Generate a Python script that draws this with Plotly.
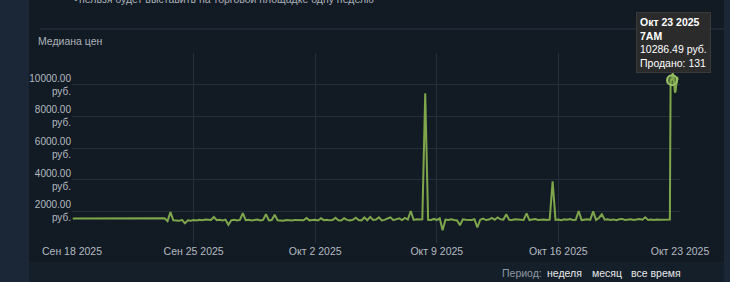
import plotly.graph_objects as go
import pandas as pd

# ---------------- data ----------------
daily_dates = ["2025-09-18 01:00", "2025-09-19 01:00", "2025-09-20 01:00", "2025-09-21 01:00",
               "2025-09-22 01:00", "2025-09-23 01:00", "2025-09-23 08:00"]
daily_values = [1550, 1550, 1545, 1555, 1560, 1560, 1560]

# Sep 23 12:00 .. 20:00 (4-hourly)
sep23_values = [1380, 1950, 1430]

# 4-hourly values, one row per day (00,04,08,12,16,20), Sep 24 .. Oct 21
four_hourly_rows = [
    [1420, 1400, 1460, 1240, 1430, 1410],  # Sep 24
    [1450, 1420, 1470, 1440, 1480, 1460],  # Sep 25
    [1450, 1640, 1440, 1470, 1430, 1480],  # Sep 26
    [1150, 1430, 1460, 1420, 1460, 1880],  # Sep 27
    [1440, 1470, 1420, 1450, 1480, 1430],  # Sep 28
    [1460, 1820, 1430, 1450, 1780, 1440],  # Sep 29
    [1430, 1410, 1450, 1440, 1420, 1460],  # Sep 30
    [1450, 1470, 1440, 1580, 1430, 1450],  # Oct 1
    [1460, 1420, 1560, 1440, 1470, 1430],  # Oct 2
    [1450, 1590, 1440, 1420, 1560, 1460],  # Oct 3
    [1430, 1470, 1600, 1450, 1420, 1610],  # Oct 4
    [1440, 1650, 1460, 1480, 1620, 1420],  # Oct 5
    [1460, 1550, 1620, 1440, 1500, 1560],  # Oct 6
    [1450, 1580, 1480, 2020, 1460, 1500],  # Oct 7
    [1480, 1500, 9450, 1470, 1460, 1520],  # Oct 8
    [1450, 1560, 800, 1480, 1450, 1500],   # Oct 9
    [1450, 1420, 1120, 1500, 1470, 1450],  # Oct 10
    [1460, 1500, 990, 1470, 1540, 1450],   # Oct 11
    [1480, 1580, 1460, 1610, 1500, 1480],  # Oct 12
    [1810, 1470, 1460, 1500, 1480, 1470],  # Oct 13
    [1460, 1870, 1450, 1480, 1510, 1460],  # Oct 14
    [1470, 1490, 1450, 1480, 3900, 1460],  # Oct 15
    [1480, 1440, 1500, 1470, 1520, 1460],  # Oct 16
    [1470, 2020, 1450, 1480, 1500, 1460],  # Oct 17
    [2000, 1460, 1580, 1810, 1470, 1500],  # Oct 18
    [1460, 1490, 1440, 1500, 1520, 1450],  # Oct 19
    [1470, 1500, 1450, 1480, 1510, 1470],  # Oct 20
    [1620, 1460, 1480, 1450, 1490, 1470],  # Oct 21
]
oct22_values = [1460, 1480, 1470]  # Oct 22 00:00, 04:00, 08:00

# hourly, Oct 22 10:00 .. 21:00
final_values = [1480, 10100, 10400, 10286.49, 10750, 10500, 9900, 9500, 9600, 10100, 10500, 10300]

hover_date = "2025-10-22 13:00"
hover_value = 10286.49

y_tickvals = [0, 2000, 4000, 6000, 8000, 10000, 12000]
y_ticktext = ["", "2000.00<br>руб.", "4000.00<br>руб.", "6000.00<br>руб.",
              "8000.00<br>руб.", "10000.00<br>руб.", ""]
x_tickvals = ["2025-09-18", "2025-09-25", "2025-10-02", "2025-10-09", "2025-10-16", "2025-10-23"]
x_ticktext = ["Сен 18 2025", "Сен 25 2025", "Окт 2 2025", "Окт 9 2025", "Окт 16 2025", "Окт 23 2025"]

# ---------------- assemble series ----------------
x = list(pd.to_datetime(daily_dates))
y = list(daily_values)
x += list(pd.date_range("2025-09-23 12:00", periods=3, freq="4h"))
y += sep23_values
for i, row in enumerate(four_hourly_rows):
    day = pd.Timestamp("2025-09-24") + pd.Timedelta(days=i)
    x += [day + pd.Timedelta(hours=4 * k) for k in range(6)]
    y += row
x += list(pd.date_range("2025-10-22 00:00", periods=3, freq="4h"))
y += oct22_values
x += list(pd.date_range("2025-10-22 10:00", periods=len(final_values), freq="1h"))
y += final_values

# ---------------- geometry helpers ----------------
W, H = 730, 282
L, R, T, B = 72, 680, 53, 243
def px(xp): return (xp - L) / (R - L)
def py(yp): return (B - yp) / (B - T)

BG = "#121a24"
GRID = "#252f3b"
LINE = "#7ea64b"
FONT = "Liberation Sans, Arial, sans-serif"

fig = go.Figure()
fig.add_trace(go.Scatter(x=x, y=y, mode="lines", line=dict(color=LINE, width=2),
                         hoverinfo="skip", showlegend=False))
fig.add_trace(go.Scatter(x=[pd.Timestamp(hover_date)], y=[hover_value], mode="markers",
                         marker=dict(size=10, color="rgba(126,166,75,0.55)",
                                     line=dict(color="#9cc46a", width=2)),
                         hoverinfo="skip", showlegend=False))

shapes = [
    dict(type="rect", xref="paper", yref="paper", x0=px(0), x1=px(29), y0=py(282), y1=py(0),
         fillcolor="#1b2736", line_width=0, layer="below"),
    dict(type="rect", xref="paper", yref="paper", x0=px(724), x1=px(731), y0=py(282), y1=py(0),
         fillcolor="#1b2736", line_width=0, layer="below"),
    dict(type="rect", xref="paper", yref="paper", x0=px(29), x1=px(724), y0=py(282), y1=py(262),
         fillcolor="#151f2a", line_width=0, layer="below"),
    dict(type="line", xref="paper", yref="paper", x0=px(40), x1=px(724), y0=py(29), y1=py(29),
         line=dict(color="#2b3644", width=1)),
    # tooltip pointer
    dict(type="path", xref="paper", yref="paper",
         path=f"M {px(667)} {py(66.5)} L {px(679)} {py(66.5)} L {px(673)} {py(73)} Z",
         fillcolor="#2b2b2b", line_width=0),
]

def note(text, xc, yc, size, color, anchor="center"):
    return dict(text=text, xref="paper", yref="paper", x=px(xc), y=py(yc),
                xanchor=anchor, yanchor="middle", showarrow=False,
                font=dict(size=size, color=color, family=FONT))

annotations = [
    note("•", 76, -1, 10.5, "#acb2b8"),
    note("нельзя будет выставить на торговой площадке одну неделю", 227, -1, 10.5, "#acb2b8"),
    note("Медиана цен", 70.5, 41, 10.5, "#acb2b8"),
    dict(text="<b>Окт 23 2025</b><br><b>7AM</b><br>10286.49 руб.<br>Продано: 131",
         xref="paper", yref="paper", x=px(636), y=py(12), xanchor="left", yanchor="top",
         align="left", showarrow=False, bgcolor="#2b2b2b", bordercolor="#3a3a3a",
         borderwidth=1, borderpad=3,
         font=dict(size=10.5, color="#ffffff", family=FONT)),
    note("Период:", 521.5, 273, 10.5, "#8f98a0"),
    note("неделя", 564, 273, 10.5, "#e8e8e8"),
    note("месяц", 606.5, 273, 10.5, "#e8e8e8"),
    note("все время", 655.5, 273, 10.5, "#e8e8e8"),
]

fig.update_layout(
    width=W, height=H,
    margin=dict(l=L, r=W - R, t=T, b=H - B, pad=0),
    paper_bgcolor=BG, plot_bgcolor=BG,
    font=dict(family=FONT, size=10.5, color="#b4bac0"),
    shapes=shapes, annotations=annotations, showlegend=False,
    xaxis=dict(type="date", range=["2025-09-18", "2025-10-23"], tickvals=x_tickvals,
               ticktext=x_ticktext, showgrid=True, gridcolor=GRID, gridwidth=1,
               zeroline=False, showline=False, ticks="",
               tickfont=dict(size=10.5, color="#b4bac0", family=FONT), fixedrange=True),
    yaxis=dict(range=[0, 12000], tickvals=y_tickvals, ticktext=y_ticktext, showgrid=True,
               gridcolor=GRID, gridwidth=1, zeroline=False, showline=False, ticks="",
               tickfont=dict(size=10, color="#b4bac0", family=FONT), ticklabelstandoff=0,
               fixedrange=True),
)

fig.write_html("out.html", config={"displayModeBar": False})
